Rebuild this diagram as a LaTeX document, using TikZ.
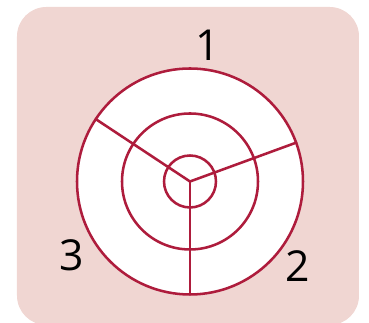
\documentclass[tikz,border=0pt]{standalone}
\usepackage{fontspec}
\setsansfont{Open Sans}
\usetikzlibrary{calc}
\definecolor{targetRingColor}{RGB}{174,28,60}
\definecolor{targetPanelColor}{RGB}{240,214,210}
\begin{document}
\begin{tikzpicture}
% Target diagram with three sectors
\def\pxsz{0.75pt}
\providecommand{\targetLineWidth}{1.9pt}
\providecommand{\targetPanelRadius}{22pt}
\begin{scope}[x=\pxsz, y=\pxsz, line cap=round, line join=round]
  \useasboundingbox (0,0) rectangle (369,323);
  % Panel
  \fill[targetPanelColor, rounded corners=\targetPanelRadius] (17,-2) rectangle (359,316);
  % Rings
  \coordinate (ctr) at (190,141.5);
  \begin{scope}[draw=targetRingColor, line width=\targetLineWidth]
    \filldraw[fill=white] (ctr) circle (113);
    \draw (ctr) circle (68);
    \draw (ctr) circle (26);
  \end{scope}
  % Sector borders
  \coordinate (rimA) at ($(ctr)+(146.5:113)$);
  \coordinate (rimB) at ($(ctr)+(20.1:113)$);
  \coordinate (rimC) at ($(ctr)+(270:113)$);
  \begin{scope}[draw=targetRingColor, line width=\targetLineWidth]
    \draw (ctr) -- (rimA);
    \draw (ctr) -- (rimB);
    \draw (ctr) -- (rimC);
  \end{scope}
  % Sector numbers
  \begin{scope}[font=\sffamily\fontsize{32}{32}\selectfont]
    \node (lblOne) at (207.5,277.5) {1};
    \node (lblTwo) at (297.5,56.5) {2};
    \node (lblThree) at (72,68) {3};
  \end{scope}
\end{scope}
\end{tikzpicture}
\end{document}
